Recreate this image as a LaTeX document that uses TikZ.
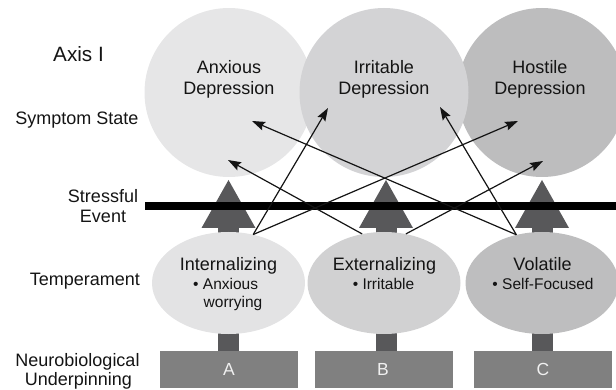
\documentclass[tikz,border=0pt]{standalone}
\usepackage{fontspec}
\setmainfont{Liberation Sans}
\usetikzlibrary{shapes.geometric,arrows.meta}
\definecolor{txt}{HTML}{141414}
\definecolor{cA}{HTML}{E6E6E7}
\definecolor{cB}{HTML}{D3D3D5}
\definecolor{cC}{HTML}{BDBDBE}
\definecolor{eA}{HTML}{E3E3E4}
\definecolor{eB}{HTML}{D1D1D2}
\definecolor{eC}{HTML}{BEBEBF}
\definecolor{boxgray}{HTML}{808080}
\definecolor{arrgray}{HTML}{58585A}
\definecolor{boxtxt}{HTML}{F0F0F0}
\tikzset{
  lbl/.style={font=\fontsize{18}{21}\selectfont, text=txt, inner sep=0pt, anchor=base},
  smalllbl/.style={font=\fontsize{15.5}{17}\selectfont, text=txt, inner sep=0pt, anchor=base},
  bigcirc/.style={circle, minimum size=169pt, inner sep=0pt},
  tempell/.style={ellipse, minimum width=153pt, minimum height=102pt, inner sep=0pt},
  neurobox/.style={rectangle, minimum width=138pt, minimum height=37pt, inner sep=0pt, fill=boxgray},
  boxlbl/.style={font=\fontsize{17.5}{20}\selectfont, text=boxtxt, inner sep=0pt, anchor=base},
  conn/.style={-{Stealth[length=13pt,width=9pt,inset=2pt]}, line width=1.2pt, draw=black!92},
}
\begin{document}
\begin{tikzpicture}[x=1pt,y=-1pt]
\useasboundingbox (0,0) rectangle (616,390);
\clip (0,0) rectangle (616,390);
% symptom-state circles
\node[bigcirc, fill=cA] (anx) at (229,92.5) {};
\node[bigcirc, fill=cC] (hos) at (542,92.5) {};
\node[bigcirc, fill=cB] (irr) at (384,92.5) {};
% big gray arrows
\foreach \cx in {228.5,386,542}{
  \fill[arrgray] (\cx-10.5,226) rectangle (\cx+10.5,352);
  \fill[arrgray] (\cx,180) -- (\cx+27,228) -- (\cx-27,228) -- cycle;
}
% temperament ellipses
\node[tempell, fill=eA] (int) at (228.5,283) {};
\node[tempell, fill=eB] (ext) at (384,283) {};
\node[tempell, fill=eC] (vol) at (542,283) {};
% neurobiological boxes
\node[neurobox] (bA) at (229,369.5) {};
\node[neurobox] (bB) at (384,369.5) {};
\node[neurobox] (bC) at (543,369.5) {};
% stressful event line
\coordinate (lineL) at (145,206);
\coordinate (lineR) at (616,206);
\draw[line width=8pt, black] (lineL) -- (lineR);
% arrow targets
\coordinate (irrL) at (328,108);
\coordinate (irrR) at (440,107);
\coordinate (hosU) at (518,121);
\coordinate (hosD) at (543,161);
\coordinate (anxU) at (252,121);
\coordinate (anxD) at (228,160);
% thin arrows
\draw[conn] (int.63) -- (irrL);
\draw[conn] (int.63) -- (hosU);
\draw[conn] (ext.114) -- (anxD);
\draw[conn] (ext.66) -- (hosD);
\draw[conn] (vol.118) -- (irrR);
\draw[conn] (vol.118) -- (anxU);
% left labels
\node[lbl, font=\fontsize{20.7}{24}\selectfont] (axis) at (78.5,62) {Axis I};
\node[lbl, anchor=base east] (sympt) at (138.5,125) {Symptom State};
\node[lbl] (stress) at (103,202.5) {Stressful};
\node[lbl] (event) at (103,223) {Event};
\node[lbl, anchor=base east] (temper) at (140,286) {Temperament};
\node[lbl] (neuro) at (77.5,366) {Neurobiological};
\node[lbl] (under) at (78.5,385.5) {Underpinning};
% circle labels
\node[lbl] (anxt1) at (229,73.5) {Anxious};
\node[lbl] (anxt2) at (229,94.5) {Depression};
\node[lbl] (irrt1) at (384,73.5) {Irritable};
\node[lbl] (irrt2) at (384,94.5) {Depression};
\node[lbl] (host1) at (540,73.5) {Hostile};
\node[lbl] (host2) at (540,94.5) {Depression};
% ellipse labels
\node[lbl] (intt1) at (228.5,270) {Internalizing};
\node[smalllbl, anchor=base west] (intt2) at (193,290) {• Anxious};
\node[smalllbl, anchor=base west] (intt3) at (203.5,307) {worrying};
\node[lbl] (extt1) at (384.5,270) {Externalizing};
\node[smalllbl] (extt2) at (383.5,289) {• Irritable};
\node[lbl] (volt1) at (542.5,270) {Volatile};
\node[smalllbl] (volt2) at (543,289) {• Self-Focused};
% box labels
\node[boxlbl] (bAt) at (229,375.5) {A};
\node[boxlbl] (bBt) at (383,375.5) {B};
\node[boxlbl] (bCt) at (543,375.5) {C};
\end{tikzpicture}
\end{document}
